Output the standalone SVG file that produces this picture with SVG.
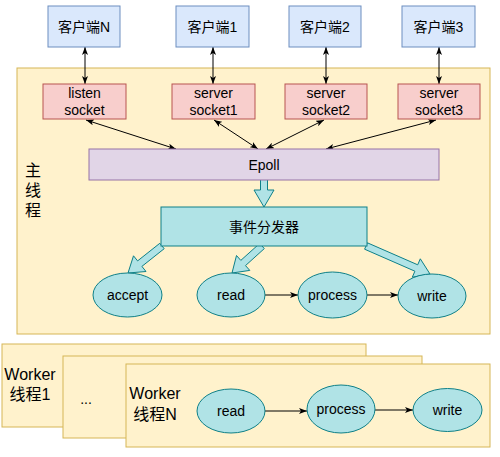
<svg xmlns="http://www.w3.org/2000/svg" width="500" height="457" viewBox="0 0 500 457">
<defs>
<style>
text{font-family:"Liberation Sans",Arial,"Noto Sans CJK SC",sans-serif;fill:#000;text-anchor:middle;dominant-baseline:central}
.t14{font-size:14px}
.t16{font-size:16px}
.client{fill:#dae8fc;stroke:#6c8ebf;stroke-width:1}
.sock{fill:#f8cecc;stroke:#b85450;stroke-width:1}
.yel{fill:#fff2cc;stroke:#d6b656;stroke-width:1}
.epoll{fill:#e1d5e7;stroke:#9673a6;stroke-width:1}
.cyan{fill:#b0e3e6;stroke:#0e8088;stroke-width:1}
.line{fill:none;stroke:#000;stroke-width:1}
.fat{fill:#b0e3e6;stroke:#0e8088;stroke-width:1;stroke-linejoin:miter}
</style>
<marker id="arr" viewBox="0 0 8 6" markerWidth="8" markerHeight="6" refX="8" refY="3" orient="auto-start-reverse" markerUnits="userSpaceOnUse">
<path d="M0,0 L8,3 L0,6 L2,3 z" fill="#000"/>
</marker>
</defs>
<rect width="500" height="457" fill="#fff"/>

<g id="main-thread">
<rect class="yel" x="17" y="68" width="473" height="266"/>
<text class="t16" x="33" y="170">主</text>
<text class="t16" x="33" y="190">线</text>
<text class="t16" x="33" y="210">程</text>
</g>

<g id="connectors">
<line class="line" x1="85" y1="47" x2="85" y2="84" marker-start="url(#arr)" marker-end="url(#arr)"/>
<line class="line" x1="213" y1="47" x2="213" y2="84" marker-start="url(#arr)" marker-end="url(#arr)"/>
<line class="line" x1="326" y1="47" x2="326" y2="84" marker-start="url(#arr)" marker-end="url(#arr)"/>
<line class="line" x1="439" y1="47" x2="439" y2="84" marker-start="url(#arr)" marker-end="url(#arr)"/>
<line class="line" x1="86" y1="120" x2="176" y2="149" marker-start="url(#arr)" marker-end="url(#arr)"/>
<line class="line" x1="214" y1="120" x2="258" y2="149" marker-start="url(#arr)" marker-end="url(#arr)"/>
<line class="line" x1="324" y1="120" x2="266" y2="149" marker-start="url(#arr)" marker-end="url(#arr)"/>
<line class="line" x1="436" y1="120" x2="326" y2="149" marker-start="url(#arr)" marker-end="url(#arr)"/>
<path class="fat" d="M260.5,180 L260.5,190 L254,190 L264,207 L274,190 L267.5,190 L267.5,180"/>
<path class="fat" d="M159.8,243.3 L137.6,260.9 L133.5,255.8 L128,273 L146,271.5 L141.9,266.4 L164.2,248.7 Z"/>
<path class="fat" d="M259.7,243.4 L240.8,260.4 L236.5,255.5 L232,273 L249.8,270.4 L245.5,265.6 L264.3,248.6 Z"/>
<path class="fat" d="M364.6,249.2 L414.9,271.2 L412.3,277.2 L430,274 L420.3,258.8 L417.7,264.8 L367.4,242.8 Z"/>
<line class="line" x1="265" y1="295" x2="298" y2="295" marker-end="url(#arr)"/>
<line class="line" x1="367" y1="295" x2="398" y2="295" marker-end="url(#arr)"/>
</g>

<g id="client-N"><rect class="client" x="48" y="6" width="72" height="41"/><text class="t14" x="84" y="26.5">客户端N</text></g>
<g id="client-1"><rect class="client" x="176" y="6" width="73" height="41"/><text class="t14" x="212.5" y="26.5">客户端1</text></g>
<g id="client-2"><rect class="client" x="289" y="6" width="72" height="41"/><text class="t14" x="325" y="26.5">客户端2</text></g>
<g id="client-3"><rect class="client" x="402" y="6" width="73" height="41"/><text class="t14" x="438.5" y="26.5">客户端3</text></g>

<g id="listen-socket"><rect class="sock" x="43" y="84" width="83" height="35"/><text class="t14" x="84.5" y="93">listen</text><text class="t14" x="84.5" y="110">socket</text></g>
<g id="server-socket1"><rect class="sock" x="172" y="84" width="83" height="35"/><text class="t14" x="213.5" y="93">server</text><text class="t14" x="213.5" y="110">socket1</text></g>
<g id="server-socket2"><rect class="sock" x="285" y="84" width="82" height="35"/><text class="t14" x="326" y="93">server</text><text class="t14" x="326" y="110">socket2</text></g>
<g id="server-socket3"><rect class="sock" x="398" y="84" width="82" height="35"/><text class="t14" x="439" y="93">server</text><text class="t14" x="439" y="110">socket3</text></g>

<g id="epoll"><rect class="epoll" x="89" y="149" width="350" height="31"/><text class="t14" x="264" y="164.5">Epoll</text></g>

<g id="dispatcher"><rect class="cyan" x="161" y="207" width="206" height="39"/><text class="t14" x="264" y="226.5">事件分发器</text></g>

<g id="accept"><ellipse class="cyan" cx="127.5" cy="295" rx="34.5" ry="22"/><text class="t14" x="127.5" y="295">accept</text></g>
<g id="read"><ellipse class="cyan" cx="231" cy="295" rx="34" ry="22"/><text class="t14" x="231" y="295">read</text></g>
<g id="process"><ellipse class="cyan" cx="332.5" cy="295" rx="34.5" ry="23"/><text class="t14" x="332.5" y="295">process</text></g>
<g id="write"><ellipse class="cyan" cx="432" cy="296" rx="34" ry="22"/><text class="t14" x="432" y="296">write</text></g>

<g id="worker-1"><rect class="yel" x="2" y="344" width="364" height="83"/><text class="t16" x="30" y="374">Worker</text><text class="t16" x="30" y="394">线程1</text></g>
<g id="worker-dots"><rect class="yel" x="63" y="356" width="359" height="82"/><text class="t14" x="86" y="399">...</text></g>
<g id="worker-N"><rect class="yel" x="126" y="364" width="364" height="83"/><text class="t16" x="155" y="393">Worker</text><text class="t16" x="155" y="414">线程N</text></g>

<g id="worker-connectors">
<line class="line" x1="265" y1="411" x2="307" y2="411" marker-end="url(#arr)"/>
<line class="line" x1="375" y1="410" x2="413" y2="410" marker-end="url(#arr)"/>
</g>
<g id="w-read"><ellipse class="cyan" cx="231" cy="411" rx="34" ry="22"/><text class="t14" x="231" y="411">read</text></g>
<g id="w-process"><ellipse class="cyan" cx="341" cy="409" rx="34" ry="24"/><text class="t14" x="341" y="409">process</text></g>
<g id="w-write"><ellipse class="cyan" cx="447.5" cy="410" rx="34.5" ry="21.5"/><text class="t14" x="447.5" y="410">write</text></g>
</svg>
